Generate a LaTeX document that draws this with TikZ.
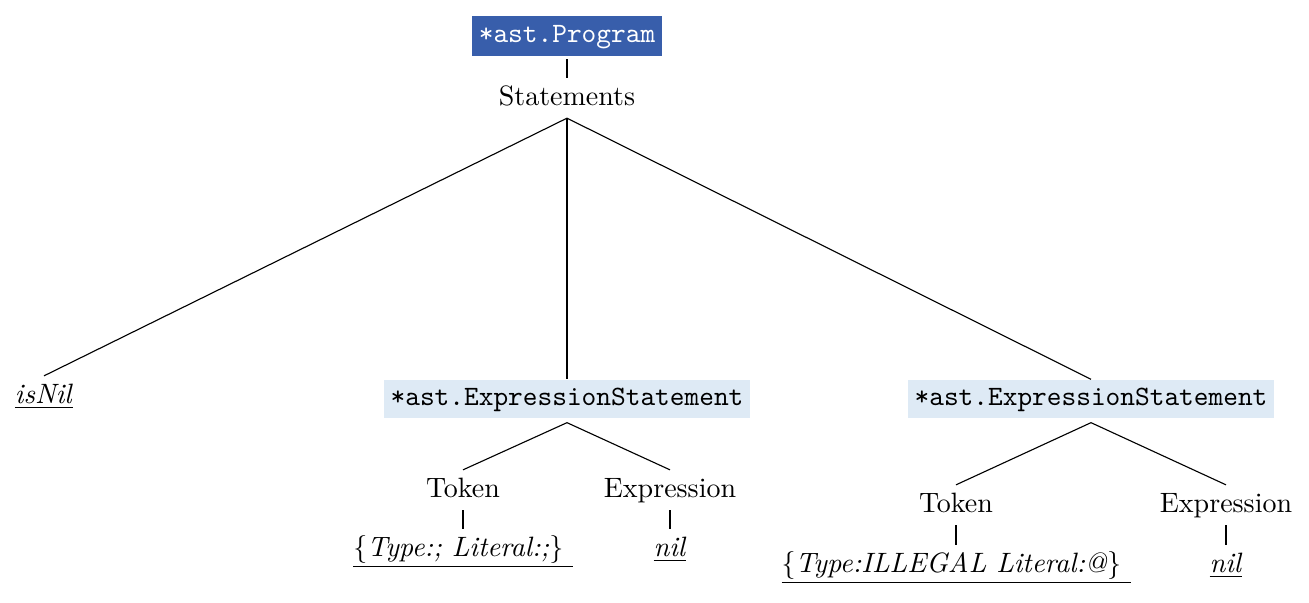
\documentclass[tikz,border=0pt]{standalone}
\definecolor{progblue}{RGB}{56,94,171}
\definecolor{esblue}{RGB}{222,234,245}
\begin{document}
\begin{tikzpicture}[x=0.35714pt,y=-0.35714pt,
  lbl/.style={inner sep=2.5pt, text height=7pt, text depth=2pt},
  progbox/.style={fill=progblue, text=white, font=\ttfamily, inner xsep=2.5pt, inner ysep=2.7pt, text height=6.5pt, text depth=2.2pt},
  esbox/.style={fill=esblue, font=\ttfamily, inner xsep=2.3pt, inner ysep=2.5pt, text height=6.5pt, text depth=2.2pt},
  conn/.style={draw=black, line width=0.4pt}]
\useasboundingbox (0,0) rectangle (1309,602);
\node[progbox] (prog) at (567,36) {*ast.Program};
\node[lbl] (stm) at (567,98) {Statements};
\node[lbl] (isnil) at (44,396) {\underline{\textit{isNil}}};
\node[esbox] (es1) at (567,399) {*ast.ExpressionStatement};
\node[esbox] (es2) at (1091,399) {*ast.ExpressionStatement};
\node[lbl] (tok1) at (463,490) {Token};
\node[lbl] (exp1) at (670,490) {Expression};
\node[lbl] (lit1) at (463,549) {\underline{\{\textit{Type:; Literal:;}\}\ }};
\node[lbl] (nil1) at (670,549) {\underline{\textit{nil}}};
\node[lbl] (tok2) at (956,505) {Token};
\node[lbl] (exp2) at (1226,505) {Expression};
\node[lbl] (lit2) at (956,565) {\underline{\{\textit{Type:ILLEGAL Literal:@}\}\ }};
\node[lbl] (nil2) at (1226,565) {\underline{\textit{nil}}};
\draw[conn] ([yshift=-1pt]prog.south) -- (stm.north);
\draw[conn] (stm.south) -- (isnil.north);
\draw[conn] (stm.south) -- (es1.north);
\draw[conn] (stm.south) -- (es2.north);
\draw[conn] ([yshift=-1.4pt]es1.south) -- (tok1.north);
\draw[conn] ([yshift=-1.4pt]es1.south) -- (exp1.north);
\draw[conn] ([yshift=-1.4pt]es2.south) -- (tok2.north);
\draw[conn] ([yshift=-1.4pt]es2.south) -- (exp2.north);
\draw[conn] (tok1.south) -- (lit1.north);
\draw[conn] (exp1.south) -- (nil1.north);
\draw[conn] (tok2.south) -- (lit2.north);
\draw[conn] (exp2.south) -- (nil2.north);
\end{tikzpicture}
\end{document}
